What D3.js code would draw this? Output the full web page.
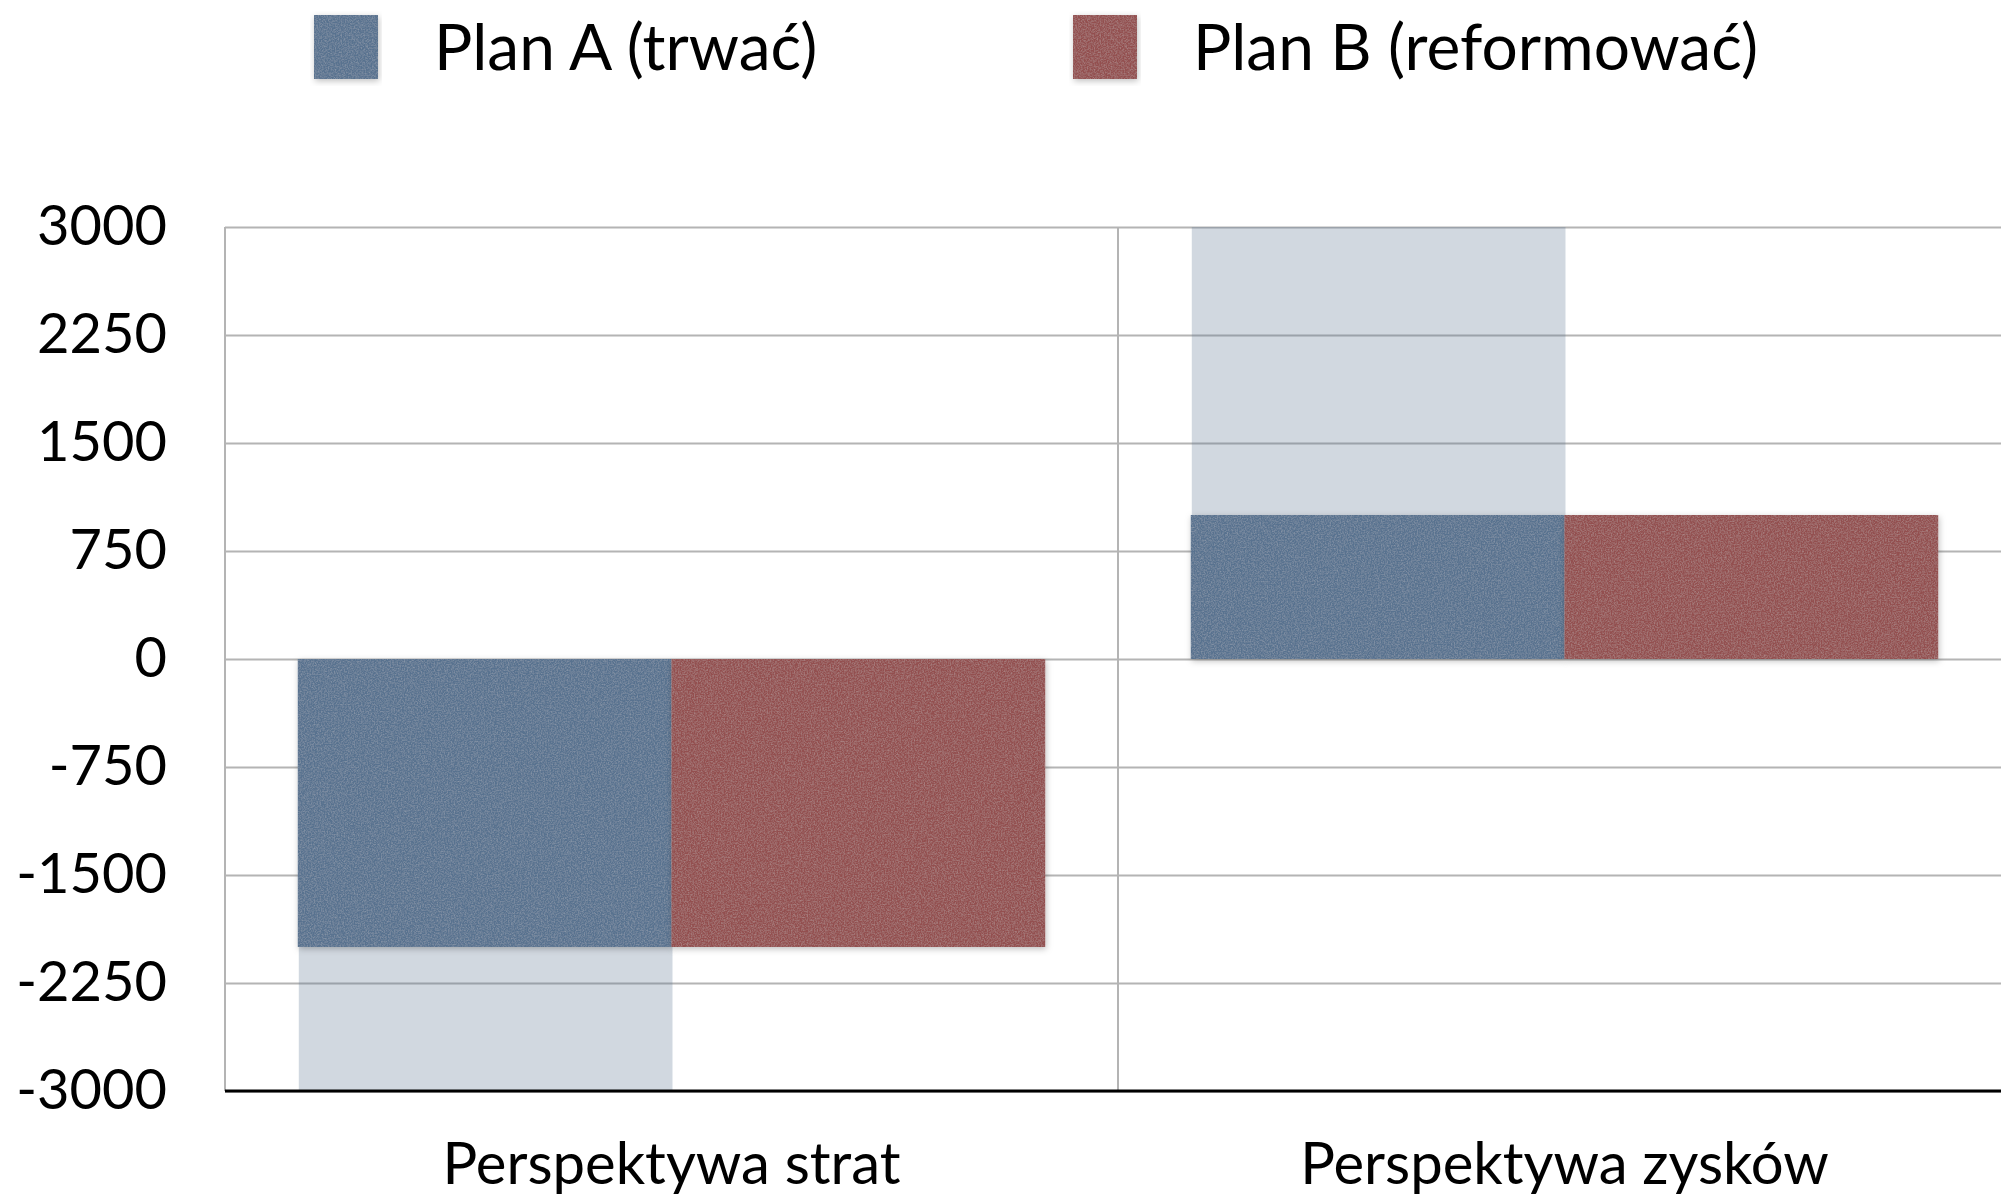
<!DOCTYPE html>
<html>
<head>
<meta charset="utf-8">
<script src="https://cdn.jsdelivr.net/npm/d3@7"></script>
<style>
  html, body { margin: 0; padding: 0; background: #fff; }
  svg { display: block; font-family: Lato, "Open Sans", sans-serif; }
</style>
</head>
<body>
<div id="chart"></div>
<script>
// data
const categories = ["Perspektywa strat", "Perspektywa zysków"];
const series = ["Plan A (trwać)", "Plan B (reformować)"];
const planA = [-2000, 1000];
const planB = [-2000, 1000];
// pale "possible outcome" bars behind plan A
const planARange = [-3000, 3000];
const yTicks = [-3000, -2250, -1500, -750, 0, 750, 1500, 2250, 3000];
const colors = ["#58728f", "#934f50"];

const width = 2001, height = 1199;
const margin = {top: 227, right: -10, bottom: 108, left: 225};

const svg = d3.select("#chart").append("svg")
    .attr("width", width)
    .attr("height", height);

// paper-like texture + soft shadow for bars
const defs = svg.append("defs");
const f = defs.append("filter").attr("id", "paper")
    .attr("x", "-5%").attr("y", "-5%").attr("width", "110%").attr("height", "115%");
f.append("feDropShadow").attr("dx", 1).attr("dy", 2).attr("stdDeviation", 3)
    .attr("flood-color", "#000").attr("flood-opacity", 0.25).attr("result", "shadowed");
f.append("feTurbulence").attr("type", "fractalNoise").attr("baseFrequency", 0.7)
    .attr("numOctaves", 3).attr("seed", 4).attr("result", "noise");
f.append("feColorMatrix").attr("in", "noise").attr("type", "matrix")
    .attr("values", "0 0 0 0 1  0 0 0 0 1  0 0 0 0 1  0.3 0 0 0 -0.11")
    .attr("result", "speck");
f.append("feComposite").attr("in", "speck").attr("in2", "SourceGraphic")
    .attr("operator", "in").attr("result", "tex");
const fm = f.append("feMerge");
fm.append("feMergeNode").attr("in", "shadowed");
fm.append("feMergeNode").attr("in", "tex");

const y = d3.scaleLinear()
    .domain([-3000, 3000])
    .range([height - margin.bottom, margin.top]);

const x0 = d3.scaleBand()
    .domain(categories)
    .range([margin.left, width - margin.right])
    .paddingInner(0.163)
    .paddingOuter(0.0815);

const x1 = d3.scaleBand()
    .domain(series)
    .range([0, x0.bandwidth()]);

const step = x0.step();

// horizontal grid
svg.append("g")
    .attr("transform", `translate(${margin.left},0)`)
    .call(d3.axisLeft(y).tickValues(yTicks).tickSize(-(width - margin.left)).tickFormat(""))
    .call(g => g.select(".domain").remove())
    .call(g => g.selectAll(".tick line").attr("stroke", "#b4b4b4").attr("stroke-width", 2));

// vertical separators
svg.append("g")
    .selectAll("line")
    .data([margin.left].concat(categories.map(c => x0(c) - x0.paddingOuter() * step + step)))
    .join("line")
    .attr("x1", d => d).attr("x2", d => d)
    .attr("y1", y(3000)).attr("y2", y(-3000))
    .attr("stroke", "#b4b4b4")
    .attr("stroke-width", 2);

// pale range bars
svg.append("g")
    .selectAll("rect")
    .data(categories)
    .join("rect")
    .attr("x", (d, i) => x0(d) + x1(series[0]) + 1)
    .attr("width", x1.bandwidth())
    .attr("y", (d, i) => y(Math.max(0, planARange[i])))
    .attr("height", (d, i) => Math.abs(y(planARange[i]) - y(0)))
    .attr("fill", colors[0])
    .attr("fill-opacity", 0.28);

// main bars
const barData = categories.flatMap((c, i) => [
    {cat: c, key: series[0], value: planA[i], color: colors[0]},
    {cat: c, key: series[1], value: planB[i], color: colors[1]}
]);

svg.append("g")
    .selectAll("rect")
    .data(barData)
    .join("rect")
    .attr("x", d => x0(d.cat) + x1(d.key))
    .attr("width", x1.bandwidth())
    .attr("y", d => y(Math.max(0, d.value)))
    .attr("height", d => Math.abs(y(d.value) - y(0)))
    .attr("fill", d => d.color)
    .attr("filter", "url(#paper)");

// bottom axis line
svg.append("line")
    .attr("x1", margin.left).attr("x2", width)
    .attr("y1", y(-3000)).attr("y2", y(-3000))
    .attr("stroke", "#000")
    .attr("stroke-width", 3);

// y labels (plain hyphen for negatives, like the original)
svg.append("g")
    .attr("transform", `translate(${margin.left},0)`)
    .call(d3.axisLeft(y).tickValues(yTicks).tickSize(0).tickPadding(58).tickFormat(d => String(d)))
    .call(g => g.select(".domain").remove())
    .call(g => g.selectAll("text")
        .attr("fill", "#000")
        .attr("font-family", "Lato, sans-serif")
        .attr("font-size", 56));

// category labels
svg.append("g")
    .attr("transform", `translate(0,${y(-3000)})`)
    .call(d3.axisBottom(x0).tickSize(0).tickPadding(0))
    .call(g => g.select(".domain").remove())
    .call(g => g.selectAll(".tick")
        .attr("transform", d => `translate(${x0(d) - x0.paddingOuter() * step + step / 2},0)`))
    .call(g => g.selectAll("text")
        .attr("y", 93)
        .attr("dy", 0)
        .attr("fill", "#000")
        .attr("font-family", "Lato, sans-serif")
        .attr("font-size", 58));

// legend
const legendX = [314, 1073];
const legend = svg.append("g")
    .selectAll("g")
    .data(series)
    .join("g")
    .attr("transform", (d, i) => `translate(${legendX[i]},15)`);

legend.append("rect")
    .attr("width", 64)
    .attr("height", 64)
    .attr("fill", (d, i) => colors[i])
    .attr("filter", "url(#paper)");

legend.append("text")
    .attr("x", 120)
    .attr("y", 55)
    .attr("font-size", 64)
    .attr("fill", "#000")
    .text(d => d);
</script>
</body>
</html>
